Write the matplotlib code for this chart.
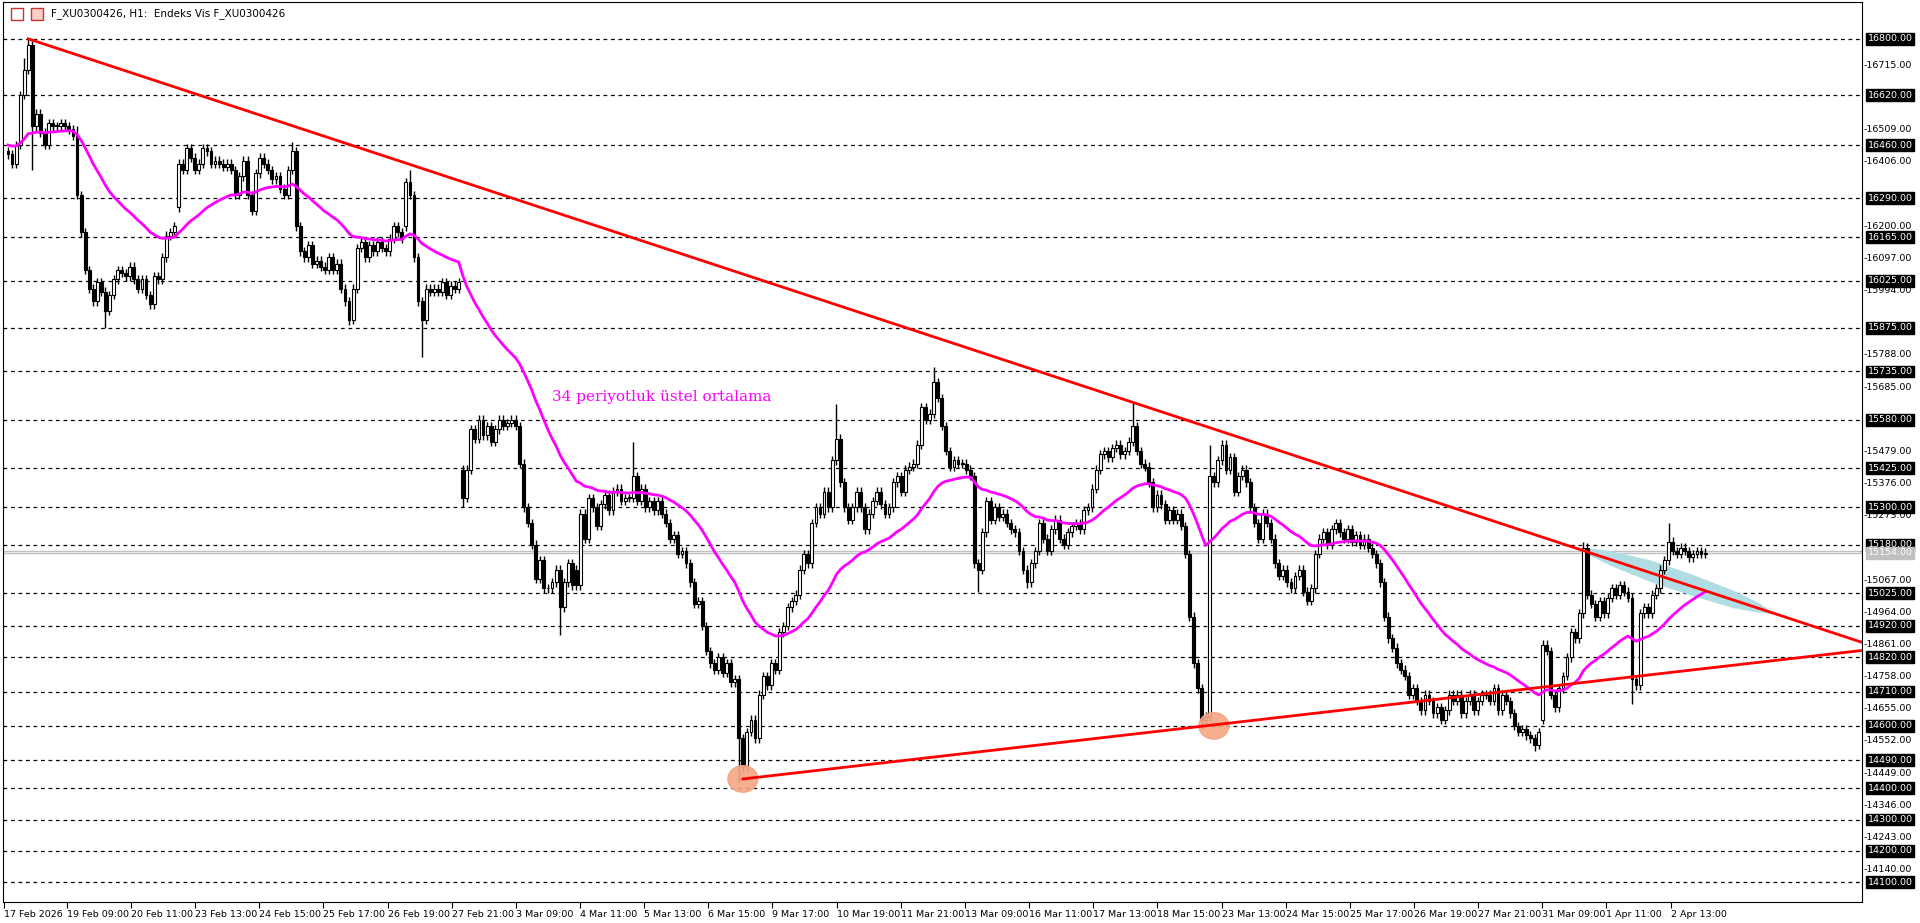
import numpy as np
import matplotlib.pyplot as plt
from matplotlib.patches import Ellipse, Rectangle

# hourly closes, 14 bars per trading day
closes = [
    16430, 16400, 16460, 16620, 16700, 16780, 16520, 16560, 16500, 16460, 16530, 16520, 16520, 16530,
    16520, 16510, 16490, 16300, 16180, 16060, 16000, 15960, 16020, 15990, 15930, 15980, 16030, 16060,
    16050, 16040, 16070, 16030, 16000, 16030, 15980, 15950, 16040, 16030, 16100, 16170, 16180, 16200,
    16400, 16380, 16450, 16420, 16380, 16400, 16450, 16440, 16400, 16410, 16400, 16390, 16400, 16380,
    16300, 16360, 16410, 16300, 16250, 16370, 16420, 16400, 16380, 16350, 16360, 16320, 16300, 16380,
    16440, 16200, 16120, 16100, 16140, 16080, 16090, 16070, 16060, 16100, 16060, 16080, 16000, 15960,
    15900, 16000, 16130, 16150, 16100, 16140, 16120, 16150, 16130, 16120, 16160, 16200, 16180, 16160,
    16340, 16300, 16100, 15960, 15900, 16000, 15990, 16000, 15990, 16020, 15980, 16010, 16000, 16020,
    15330, 15420, 15550, 15520, 15580, 15530, 15560, 15510, 15550, 15580, 15560, 15570, 15580, 15560,
    15440, 15300, 15250, 15180, 15070, 15130, 15040, 15040, 15060, 15100, 14980, 15060, 15120, 15050,
    15050, 15280, 15200, 15330, 15300, 15240, 15310, 15340, 15290, 15350, 15360, 15320, 15330, 15330,
    15400, 15320, 15360, 15300, 15320, 15290, 15320, 15280, 15250, 15200, 15210, 15150, 15160, 15120,
    15060, 14990, 15000, 14920, 14840, 14800, 14780, 14820, 14770, 14800, 14740, 14750, 14560, 14470,
    14580, 14620, 14560, 14700, 14760, 14730, 14800, 14780, 14900, 14920, 14980, 15000, 15020, 15100,
    15150, 15120, 15250, 15300, 15280, 15350, 15300, 15450, 15520, 15380, 15300, 15260, 15300, 15350,
    15300, 15230, 15280, 15320, 15350, 15310, 15280, 15300, 15380, 15400, 15350, 15420, 15430, 15440,
    15500, 15620, 15580, 15600, 15700, 15650, 15560, 15480, 15430, 15450, 15440, 15440, 15420, 15400,
    15120, 15100, 15220, 15320, 15260, 15300, 15270, 15280, 15250, 15230, 15220, 15160, 15100, 15060,
    15120, 15160, 15250, 15200, 15160, 15230, 15260, 15200, 15180, 15220, 15240, 15250, 15230, 15290,
    15300, 15360, 15420, 15470, 15480, 15460, 15490, 15500, 15470, 15480, 15510, 15560, 15480, 15440,
    15430, 15380, 15300, 15340, 15310, 15260, 15290, 15260, 15280, 15240, 15150, 14950, 14800, 14720,
    14620, 14630, 15400, 15380, 15450, 15500, 15420, 15460, 15350, 15400, 15420, 15380, 15300, 15250,
    15200, 15280, 15250, 15200, 15120, 15080, 15100, 15060, 15040, 15080, 15100, 15030, 15000, 15040,
    15150, 15200, 15220, 15180, 15230, 15250, 15220, 15200, 15230, 15190, 15210, 15180, 15200, 15170,
    15150, 15120, 15060, 14950, 14880, 14850, 14800, 14780, 14760, 14700, 14720, 14680, 14650, 14700,
    14680, 14640, 14660, 14620, 14650, 14700, 14680, 14700, 14640, 14680, 14700, 14650, 14680, 14700,
    14700, 14680, 14720, 14650, 14700, 14680, 14640, 14600, 14580, 14590, 14570, 14560, 14540, 14580,
    14860, 14840, 14700, 14660, 14720, 14760, 14820, 14900, 14880, 14960, 15170, 15020, 14990, 14950,
    15000, 14960, 15010, 15040, 15020, 15050, 15030, 15010, 14750, 14730, 14960, 14980, 14960, 15020,
    15040, 15100, 15130, 15190, 15160, 15150, 15170, 15160, 15140, 15150, 15160, 15150, 15154,
]
first_open = 16440
gap_opens = {112: 15420, 98: 16200, 42: 16260, 140: 15100, 378: 14620}

# notable wicks (bar -> price)
spike_highs = {5: 16800, 70: 16470, 99: 16380, 154: 15510, 204: 15630, 228: 15750,
               277: 15640, 296: 15500, 388: 15190, 409: 15250, 4: 16740, 17: 16520}
spike_lows = {6: 16380, 24: 15874, 84: 15885, 102: 15780, 112: 15300, 136: 14890,
              180: 14420, 239: 15030, 251: 15040, 294: 14590, 376: 14520, 400: 14670}
wick = 14

level_lines = [16800, 16620, 16460, 16290, 16165, 16025, 15875, 15735, 15580, 15425,
               15300, 15180, 15025, 14920, 14820, 14710, 14600, 14490, 14400, 14300,
               14200, 14100]
plain_ticks = [16715, 16509, 16406, 16200, 16097, 15994, 15788, 15685, 15479, 15376,
               15273, 15067, 14964, 14861, 14758, 14655, 14552, 14449, 14346, 14243, 14140]
last_price = 15154

x_labels = ["19 Feb 09:00", "20 Feb 11:00", "23 Feb 13:00", "24 Feb 15:00", "25 Feb 17:00",
            "26 Feb 19:00", "27 Feb 21:00", "3 Mar 09:00", "4 Mar 11:00", "5 Mar 13:00",
            "6 Mar 15:00", "9 Mar 17:00", "10 Mar 19:00", "11 Mar 21:00", "13 Mar 09:00",
            "16 Mar 11:00", "17 Mar 13:00", "18 Mar 15:00", "23 Mar 13:00", "24 Mar 15:00",
            "25 Mar 17:00", "26 Mar 19:00", "27 Mar 21:00", "31 Mar 09:00", "1 Apr 11:00",
            "2 Apr 13:00"]

# trend lines (bar, price)
down_line = [(5, 16800), (457, 14866)]
up_line = [(181, 14430), (457, 14842)]
touch_points = [(181, 14430), (297, 14600)]
band_bars = [389, 395, 405, 415, 425, 431, 435]
band_up = [12, 28, 40, 38, 30, 18, 2]
band_dn = [8, 20, 30, 30, 26, 14, 2]

# ---------------------------------------------------------------
closes = np.array(closes, dtype=float)
n = len(closes)
opens = np.concatenate([[first_open], closes[:-1]])
for k, v in gap_opens.items():
    opens[k] = v
highs = np.maximum(opens, closes) + wick
lows = np.minimum(opens, closes) - wick
for k, v in spike_highs.items():
    highs[k] = max(highs[k], v)
for k, v in spike_lows.items():
    lows[k] = min(lows[k], v)

ema = np.zeros(n)
alpha = 2 / (34 + 1)
ema[0] = 16460
for i in range(1, n):
    ema[i] = alpha * closes[i] + (1 - alpha) * ema[i - 1]

plt.rcParams['font.family'] = 'DejaVu Sans'
fig = plt.figure(figsize=(19.2, 9.23), dpi=100)
ax = fig.add_axes([3 / 1920, 21 / 923, 1859 / 1920, 900 / 923])
px_per_bar = 4.06
x0 = -5 / px_per_bar
ax.set_xlim(x0, x0 + 1859 / px_per_bar)
ax.set_ylim(14036, 16918)

for lv in level_lines:
    ax.axhline(lv, color='black', ls=(0, (3, 3)), lw=0.9, zorder=1)
ax.axhline(last_price, color='#c0c0c0', lw=1, zorder=1)
ax.axhline(last_price + 6, color='#c0c0c0', lw=1, zorder=1)

# light blue band around the falling line
s = (down_line[1][1] - down_line[0][1]) / (down_line[1][0] - down_line[0][0])
bb = np.array(band_bars, dtype=float)
mid = down_line[0][1] + s * (bb - down_line[0][0])
ax.fill(np.concatenate([bb, bb[::-1]]),
        np.concatenate([mid + np.array(band_up), (mid - np.array(band_dn))[::-1]]),
        color='#b0dde4', lw=0, zorder=2)

idx = np.arange(n)
ax.vlines(idx, lows, highs, color='black', lw=1, zorder=3)
up = closes >= opens
body_h = np.maximum(np.abs(closes - opens), 3)
ax.bar(idx[up], body_h[up], bottom=np.minimum(opens, closes)[up], width=0.7,
       color='white', edgecolor='black', lw=0.8, zorder=4)
ax.bar(idx[~up], body_h[~up], bottom=np.minimum(opens, closes)[~up], width=0.7,
       color='black', edgecolor='black', lw=0.8, zorder=4)

ax.plot(idx, ema, color='#ff00ff', lw=2, zorder=5)

for line in (down_line, up_line):
    ax.plot([line[0][0], line[1][0]], [line[0][1], line[1][1]], color='#ff0000', lw=2, zorder=6)

for bx, py in touch_points:
    ax.add_patch(Ellipse((bx, py), 30 / px_per_bar, 85, color='#f4a582', alpha=0.9, zorder=5))

ax.text(134, 15640, "34 periyotluk üstel ortalama", color='#ff00ff', fontsize=11,
        family='DejaVu Serif', zorder=7)

# right price scale
ax.set_yticks([])
for t in plain_ticks:
    ax.text(1.001, t, "-" + f"{t:.2f}", transform=ax.get_yaxis_transform(),
            va='center', ha='left', fontsize=6.8, clip_on=False)
for lv in level_lines:
    ax.text(1.003, lv, f"{lv:.2f}", transform=ax.get_yaxis_transform(), va='center', ha='left',
            fontsize=6.8, color='white', clip_on=False,
            bbox=dict(boxstyle='square,pad=0.15', fc='black', ec='black'))
ax.text(1.003, last_price, f"{last_price:.2f}", transform=ax.get_yaxis_transform(), va='center',
        ha='left', fontsize=6.8, color='white', clip_on=False,
        bbox=dict(boxstyle='square,pad=0.15', fc='#c0c0c0', ec='#c0c0c0'))

# time axis
tick_pos = [14.5 + k * 15.8 for k in range(len(x_labels))]
ax.set_xticks([x0 + 0.3] + tick_pos)
ax.set_xticklabels(["17 Feb 2026"] + x_labels, fontsize=6.8, ha='left')
ax.tick_params(axis='x', length=4, pad=2)

ax.text(48 / 1859, 1 - 12 / 900, "F_XU0300426, H1:  Endeks Vis F_XU0300426", transform=ax.transAxes,
        va='center', ha='left', fontsize=7.5)
ax.add_patch(Rectangle((8 / 1859, 1 - 18 / 900), 12 / 1859, 12 / 900, transform=ax.transAxes,
                       fc='white', ec='#d03030', lw=1))
ax.add_patch(Rectangle((28 / 1859, 1 - 18 / 900), 12 / 1859, 12 / 900, transform=ax.transAxes,
                       fc='#f8d0c8', ec='#d03030', lw=1))

fig.savefig("out.png", dpi=100)
